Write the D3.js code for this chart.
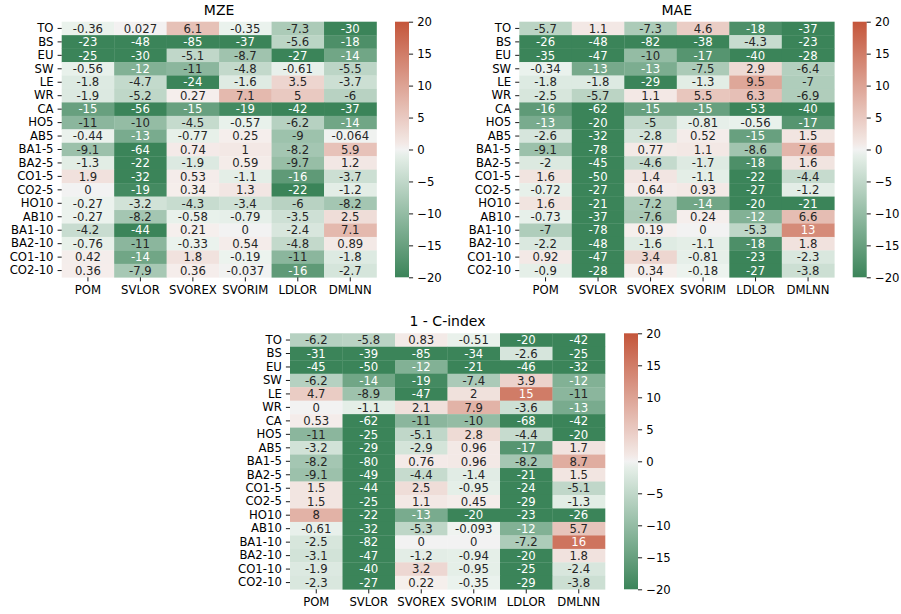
<!DOCTYPE html>
<html>
<head>
<meta charset="utf-8">
<script src="https://cdn.jsdelivr.net/npm/d3@7"></script>
<style>
  body { margin: 0; background: #fff; }
  svg text { font-family: "DejaVu Sans", sans-serif; }
</style>
</head>
<body>
<script>
// data: rows x methods, one array per metric
var methods = ["POM", "SVLOR", "SVOREX", "SVORIM", "LDLOR", "DMLNN"];
var datasets = ["TO", "BS", "EU", "SW", "LE", "WR", "CA", "HO5", "AB5", "BA1-5", "BA2-5",
  "CO1-5", "CO2-5", "HO10", "AB10", "BA1-10", "BA2-10", "CO1-10", "CO2-10"];
var colorbarTicks = [-20, -15, -10, -5, 0, 5, 10, 15, 20];

var mze = [
  [-0.36, 0.027, 6.1, -0.35, -7.3, -30],
  [-23, -48, -85, -37, -5.6, -18],
  [-25, -30, -5.1, -8.7, -27, -14],
  [-0.56, -12, -11, -4.8, -0.61, -5.5],
  [-1.8, -4.7, -24, -1.6, 3.5, -3.7],
  [-1.9, -5.2, 0.27, 7.1, 5, -6],
  [-15, -56, -15, -19, -42, -37],
  [-11, -10, -4.5, -0.57, -6.2, -14],
  [-0.44, -13, -0.77, 0.25, -9, -0.064],
  [-9.1, -64, 0.74, 1, -8.2, 5.9],
  [-1.3, -22, -1.9, 0.59, -9.7, 1.2],
  [1.9, -32, 0.53, -1.1, -16, -3.7],
  [0, -19, 0.34, 1.3, -22, -1.2],
  [-0.27, -3.2, -4.3, -3.4, -6, -8.2],
  [-0.27, -8.2, -0.58, -0.79, -3.5, 2.5],
  [-4.2, -44, 0.21, 0, -2.4, 7.1],
  [-0.76, -11, -0.33, 0.54, -4.8, 0.89],
  [0.42, -14, 1.8, -0.19, -11, -1.8],
  [0.36, -7.9, 0.36, -0.037, -16, -2.7]
];

var mae = [
  [-5.7, 1.1, -7.3, 4.6, -18, -37],
  [-26, -48, -82, -38, -4.3, -23],
  [-35, -47, -10, -17, -40, -28],
  [-0.34, -13.3, -12.7, -7.5, 2.9, -6.4],
  [-1.8, -1.8, -29, -1.3, 9.5, -7],
  [-2.5, -5.7, 1.1, 5.5, 6.3, -6.9],
  [-16, -62, -15, -15, -53, -40],
  [-13, -20, -5, -0.81, -0.56, -17],
  [-2.6, -32, -2.8, 0.52, -15, 1.5],
  [-9.1, -78, 0.77, 1.1, -8.6, 7.6],
  [-2, -45, -4.6, -1.7, -18, 1.6],
  [1.6, -50, 1.4, -1.1, -22, -4.4],
  [-0.72, -27, 0.64, 0.93, -27, -1.2],
  [1.6, -21, -7.2, -14, -20, -21],
  [-0.73, -37, -7.6, 0.24, -12, 6.6],
  [-7, -78, 0.19, 0, -5.3, 13],
  [-2.2, -48, -1.6, -1.1, -18, 1.8],
  [0.92, -47, 3.4, -0.81, -23, -2.3],
  [-0.9, -28, 0.34, -0.18, -27, -3.8]
];

var cindex = [
  [-6.2, -5.8, 0.83, -0.51, -20, -42],
  [-31, -39, -85, -34, -2.6, -25],
  [-45, -50, -12, -21, -46, -32],
  [-6.2, -14, -19, -7.4, 3.9, -12],
  [4.7, -8.9, -47, 2, 15, -11],
  [0, -1.1, 2.1, 7.9, -3.6, -13],
  [0.53, -62, -11, -10, -68, -42],
  [-11, -25, -5.1, 2.8, -4.4, -20],
  [-3.2, -29, -2.9, 0.96, -17, 1.7],
  [-8.2, -80, 0.76, 0.96, -8.2, 8.7],
  [-9.1, -49, -4.4, -1.4, -21, 1.5],
  [1.5, -44, 2.5, -0.95, -24, -5.1],
  [1.5, -25, 1.1, 0.45, -29, -1.3],
  [8, -22, -13, -20, -23, -26],
  [-0.61, -32, -5.3, -0.093, -12, 5.7],
  [-2.5, -82, 0, 0, -7.2, 16],
  [-3.1, -47, -1.2, -0.94, -20, 1.8],
  [-1.9, -40, 3.2, -0.95, -25, -2.4],
  [-2.3, -27, 0.22, -0.35, -29, -3.8]
];

var W = 901, H = 614;
var FS = "11.67px";   // 10pt at this figure's dpi
var TICK = 4.1;

// diverging green - light gray - red, like seaborn diverging_palette(145, 20)
var color = d3.scaleLinear()
  .domain([-20, -0.16, 0, 0.16, 20])
  .range(["#3b8459", "#ecf3ee", "#f2f2f2", "#f5efed", "#c4553a"])
  .clamp(true);

var fmt = d3.format(".2~g");
function annot(v) { return fmt(v).replace("\u2212", "-"); }

function lum(c) {
  var rgb = d3.rgb(c);
  var f = function (x) { x /= 255; return x <= 0.03928 ? x / 12.92 : Math.pow((x + 0.055) / 1.055, 2.4); };
  return 0.2126 * f(rgb.r) + 0.7152 * f(rgb.g) + 0.0722 * f(rgb.b);
}

var svg = d3.select("body").append("svg")
  .attr("width", W).attr("height", H);

var defs = svg.append("defs");
var grad = defs.append("linearGradient")
  .attr("id", "cbar").attr("x1", 0).attr("y1", 1).attr("x2", 0).attr("y2", 0);
d3.range(0, 41).forEach(function (i) {
  var v = -20 + i;
  grad.append("stop").attr("offset", (i / 40)).attr("stop-color", color(v));
});

function styleAxis(a) {
  a.select(".domain").remove();
  a.selectAll("text").style("font-size", FS).style("font-family", "DejaVu Sans").attr("fill", "#000");
  a.selectAll("line").attr("stroke", "#000").attr("stroke-width", 0.9);
}

function heatmap(title, values, box, cbar) {
  var x = d3.scaleBand().domain(methods).range([box.x0, box.x1]);
  var y = d3.scaleBand().domain(datasets).range([box.y0, box.y1]);
  var g = svg.append("g");

  var cells = [];
  values.forEach(function (row, i) {
    row.forEach(function (v, j) {
      cells.push({ r: datasets[i], c: methods[j], v: v });
    });
  });

  g.selectAll("rect.cell").data(cells).enter().append("rect")
    .attr("class", "cell")
    .attr("x", function (d) { return x(d.c); })
    .attr("y", function (d) { return y(d.r); })
    .attr("width", x.bandwidth() + 0.3)
    .attr("height", y.bandwidth() + 0.3)
    .attr("fill", function (d) { return color(d.v); });

  g.selectAll("text.val").data(cells).enter().append("text")
    .attr("class", "val")
    .attr("x", function (d) { return x(d.c) + x.bandwidth() / 2; })
    .attr("y", function (d) { return y(d.r) + y.bandwidth() / 2; })
    .attr("dy", "0.36em")
    .attr("text-anchor", "middle")
    .style("font-size", FS)
    .attr("fill", function (d) { return lum(color(d.v)) > 0.408 ? "#262626" : "#ffffff"; })
    .text(function (d) { return annot(d.v); });

  var yAxis = d3.axisLeft(y).tickSize(TICK).tickPadding(TICK);
  var xAxis = d3.axisBottom(x).tickSize(TICK).tickPadding(TICK);

  styleAxis(g.append("g").attr("transform", "translate(" + box.x0 + ",0)").call(yAxis));
  styleAxis(g.append("g").attr("transform", "translate(0," + box.y1 + ")").call(xAxis));

  g.append("text")
    .attr("x", (box.x0 + box.x1) / 2)
    .attr("y", box.y0 - 7)
    .attr("text-anchor", "middle")
    .style("font-size", "14px")
    .text(title);

  // colorbar
  var cy = d3.scaleLinear().domain([-20, 20]).range([box.y1, box.y0]);
  g.append("rect")
    .attr("x", cbar.x0).attr("y", box.y0)
    .attr("width", cbar.w).attr("height", box.y1 - box.y0)
    .attr("fill", "url(#cbar)");
  styleAxis(g.append("g")
    .attr("transform", "translate(" + (cbar.x0 + cbar.w) + ",0)")
    .call(d3.axisRight(cy).tickValues(colorbarTicks).tickSize(TICK).tickPadding(TICK)));
}

heatmap("MZE", mze, { x0: 61.7, x1: 376.5, y0: 21.7, y1: 277.3 }, { x0: 395, w: 14 });
heatmap("MAE", mae, { x0: 519.3, x1: 834.3, y0: 21.7, y1: 277.3 }, { x0: 852.7, w: 14 });
heatmap("1 - C-index", cindex, { x0: 290, x1: 605, y0: 333.3, y1: 589.3 }, { x0: 624, w: 14 });
</script>
</body>
</html>
